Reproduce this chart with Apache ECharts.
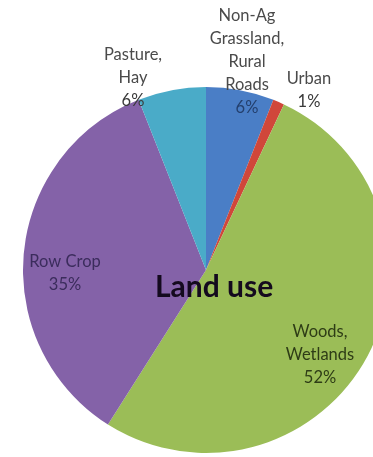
<!DOCTYPE html>
<html>
<head>
<meta charset="utf-8">
<script src="https://cdn.jsdelivr.net/npm/echarts@6/dist/echarts.min.js"></script>
<style>
  html, body { margin: 0; padding: 0; background: #fff; }
  #chart { width: 373px; height: 457px; }
</style>
</head>
<body>
<div id="chart"></div>
<script>
// land use shares, clockwise from 12 o'clock
const names = ["Non-Ag\nGrassland,\nRural\nRoads", "Urban", "Woods,\nWetlands", "Row Crop", "Pasture,\nHay"];
const values = [6, 1, 52, 35, 6];
const colors = ["#4a7ec6", "#d0473a", "#9bbd57", "#8462a8", "#4aabc8"];
const textColors = ["#4a4a4a", "#4a4a4a", "#2e3c16", "#3b2c5c", "#4a4a4a"];
const pctColors = ["#24406e", "#3a3a3a", "#2e3c16", "#3b2c5c", "#3a3a3a"];
// label anchor points (centre of each text block)
const labelPos = [[247, 62], [309, 90], [320, 355], [65, 273], [133, 78]];

const chart = echarts.init(document.getElementById("chart"));
chart.setOption({
  animation: false,
  graphic: [{
    type: "text",
    left: 155, top: 272,
    z: 10,
    style: { text: "Land use", font: "bold 30px Lato", fill: "#140a1e" }
  }],
  series: [{
    type: "pie",
    center: [206, 270],
    radius: 183,
    startAngle: 90,
    clockwise: true,
    avoidLabelOverlap: false,
    silent: true,
    label: { position: "inside" },
    labelLine: { show: false },
    // place labels where the reference has them
    labelLayout: function (params) {
      const pos = labelPos[params.dataIndex];
      return { x: pos[0], y: pos[1], align: "center", verticalAlign: "middle" };
    },
    data: names.map(function (n, i) {
      return {
        name: n,
        value: values[i],
        itemStyle: { color: colors[i] },
        label: {
          formatter: function (p) { return "{t|" + p.name + "}\n{p|" + p.value + "%}"; },
          rich: {
            t: { fontFamily: "Lato", fontSize: 16.5, lineHeight: 23, color: textColors[i], align: "center" },
            p: { fontFamily: "Lato", fontSize: 16.5, lineHeight: 23, color: pctColors[i], align: "center" }
          }
        }
      };
    })
  }]
});
</script>
</body>
</html>
